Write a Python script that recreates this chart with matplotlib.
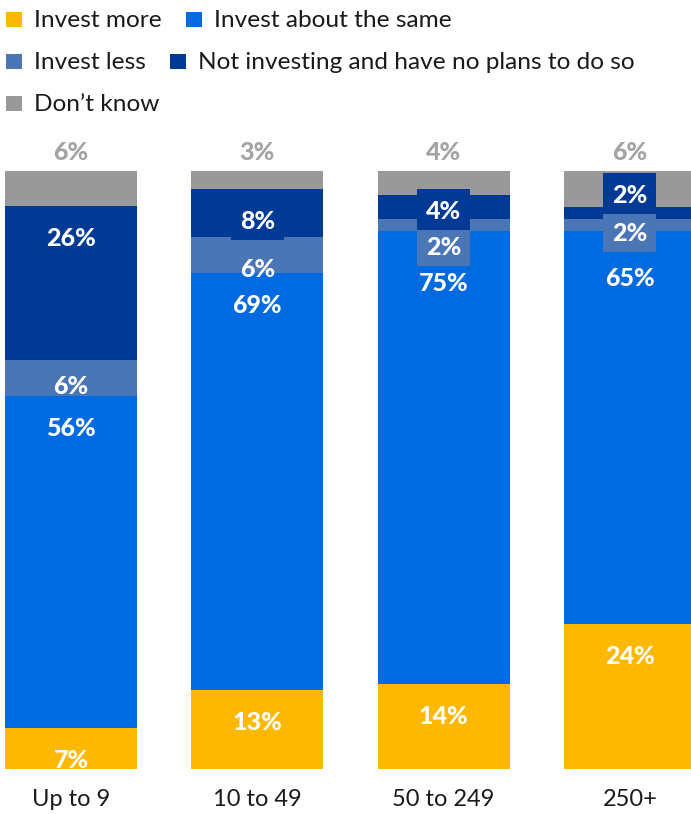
import matplotlib
matplotlib.use('Agg')
import matplotlib.pyplot as plt
from matplotlib.patches import Rectangle
import numpy as np

# ---------------- data ----------------
categories = ['Up to 9', '10 to 49', '50 to 249', '250+']
series_names = ['Invest more', 'Invest about the same', 'Invest less',
                'Not investing and have no plans to do so', "Don\u2019t know"]
invest_more = [7, 13, 14, 24]
invest_same = [56, 69, 75, 65]
invest_less = [6, 6, 2, 2]
not_investing = [26, 8, 4, 2]
dont_know = [6, 3, 4, 6]

# ---------------- style ----------------
colors = ['#FFB800', '#006BE0', '#4A76B5', '#003A94', '#999999']
label_gray = '#A3A3A3'
text_dark = '#1A1A1A'
FONT = 'Lato'
plt.rcParams['font.family'] = [FONT, 'DejaVu Sans']

W, H = 691, 814
fig = plt.figure(figsize=(W / 100, H / 100), dpi=100)
bar_bottom_px, bar_top_px = 769, 170.5
ax = fig.add_axes([0, (H - bar_bottom_px) / H, 1, (bar_bottom_px - bar_top_px) / H])
spacing_px = 186.3
x0_px = 71
ax.set_xlim(-x0_px / spacing_px, (W - x0_px) / spacing_px)
ax.set_ylim(0, 100)
ax.axis('off')
py = (bar_bottom_px - bar_top_px) / 100.0  # px per unit

data = np.array([invest_more, invest_same, invest_less, not_investing, dont_know], float)
totals = data.sum(axis=0)
shares = data / totals * 100
x = np.arange(len(categories))
bar_w = 132 / spacing_px
cum = np.vstack([np.zeros(len(categories)), np.cumsum(shares, axis=0)])
for k in range(5):
    ax.bar(x, shares[k], bottom=cum[k], width=bar_w, color=colors[k], linewidth=0, zorder=1)

# ---------------- value labels ----------------
LABEL_PT = 18
cap_px = 18
box_h = 41 / py
min_gap = 36 / py
box_w = 53 / spacing_px
top_offset = 31 / py
boxed = {(1, 3), (2, 3), (2, 2), (3, 3), (3, 2)}
label_nudge_px = {(0, 2): -6, (3, 3): -20, (3, 2): -18, (3, 1): -9}

for i in range(len(categories)):
    ks = [3, 2, 1, 0]
    ys = [cum[k + 1, i] - top_offset for k in ks]
    # relax overlaps (ordered top -> bottom)
    for _ in range(300):
        moved = False
        for a in range(len(ys) - 1):
            d = ys[a] - ys[a + 1]
            if d < min_gap - 1e-6:
                p = (min_gap - d) / 2
                ys[a] += p
                ys[a + 1] -= p
                moved = True
        if not moved:
            break
    ys = [yv - label_nudge_px.get((i, k), 0) / py for k, yv in zip(ks, ys)]
    # draw in reverse so upper boxes sit on top
    for n, (k, yc) in enumerate(zip(ks[::-1], ys[::-1])):
        if (i, k) in boxed:
            ax.add_patch(Rectangle((x[i] - box_w / 2, yc - box_h / 2), box_w, box_h,
                                   facecolor=colors[k], edgecolor='none', zorder=3 + n * 0.01))
        ax.text(x[i], yc - (cap_px / 2) / py, f'{int(data[k, i])}%', ha='center',
                va='baseline', color='white', fontsize=LABEL_PT, fontweight='black',
                zorder=4, clip_on=False)
    # don't know label above bar
    ax.text(x[i], 100 + (20 - cap_px / 2) / py, f'{int(data[4, i])}%', ha='center',
            va='baseline', color=label_gray, fontsize=LABEL_PT, fontweight='black',
            clip_on=False)
    # category label
    ax.text(x[i], -37 / py, categories[i], ha='center', va='baseline',
            color=text_dark, fontsize=17, clip_on=False)

# ---------------- legend (flow layout) ----------------
renderer = fig.canvas.get_renderer()
rows = [[0, 1], [2, 3], [4]]
row_baselines = [26.7, 69.0, 111.0]
for row, base in zip(rows, row_baselines):
    cx = 6
    for k in row:
        fig.patches.append(Rectangle((cx / W, 1 - base / H), 16 / W, 15 / H,
                                     transform=fig.transFigure, facecolor=colors[k],
                                     edgecolor='none'))
        t = fig.text((cx + 28) / W, 1 - base / H, series_names[k], ha='left',
                     va='baseline', fontsize=17.6, color=text_dark)
        wpx = t.get_window_extent(renderer).width
        cx = cx + 28 + wpx + 24

fig.savefig('out.png', dpi=100)
